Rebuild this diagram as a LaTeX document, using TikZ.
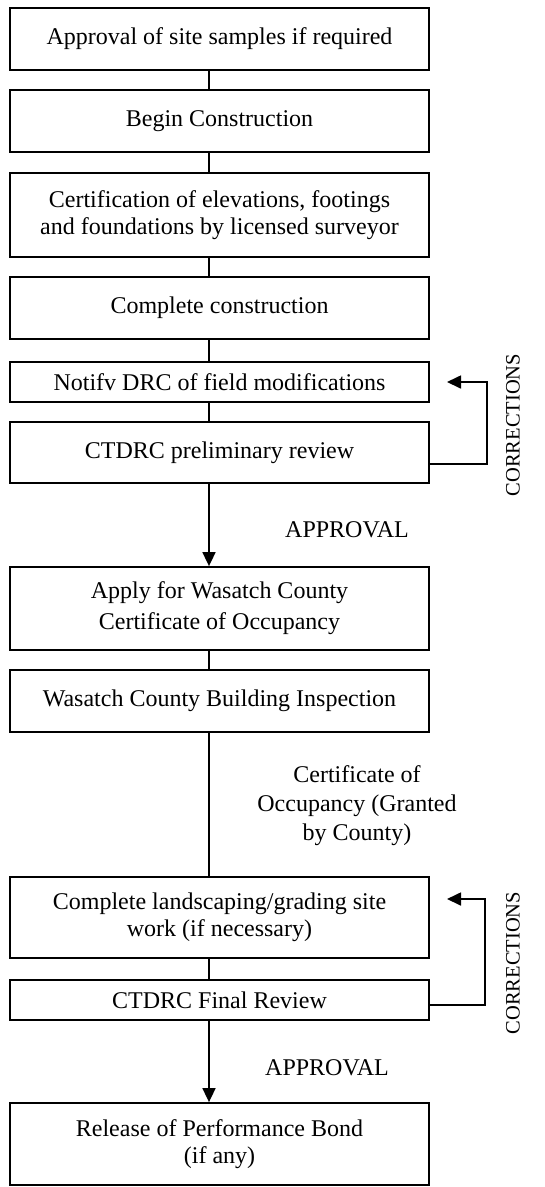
\documentclass[tikz,border=0pt]{standalone}
\usepackage{fontspec}
\setmainfont{Liberation Serif}
\usetikzlibrary{arrows.meta}
\begin{document}
\begin{tikzpicture}[x=1pt,y=-1pt,
  box/.style={draw,line width=1.8pt,minimum width=419pt,inner sep=0pt,align=center,
    font=\fontsize{24}{27}\selectfont},
  conn/.style={line width=1.7pt},
  arr/.style={line width=1.7pt,-{Triangle[length=14pt,width=13pt]}},
  lbl/.style={font=\fontsize{24}{29}\selectfont,align=center,inner sep=0pt},
  rot/.style={font=\fontsize{20.5}{24}\selectfont,rotate=90,inner sep=0pt}]
\useasboundingbox (0,0) rectangle (545,1187);
\node[box,minimum height=62pt] (b1) at (219.5,39) {Approval of site samples if required};
\node[box,minimum height=62pt] (b2) at (219.5,121) {Begin Construction};
\node[box,minimum height=84pt] (b3) at (219.5,215) {Certification of elevations, footings\\and foundations by licensed surveyor};
\node[box,minimum height=62pt] (b4) at (219.5,308) {Complete construction};
\node[box,minimum height=40pt] (b5) at (219.5,382) {Notifv DRC of field modifications};
\node[box,minimum height=61pt] (b6) at (219.5,452.5) {CTDRC preliminary review};
\node[box,minimum height=83pt,font=\fontsize{24}{31}\selectfont] (b7) at (219.5,608.5) {Apply for Wasatch County\\Certificate of Occupancy};
\node[box,minimum height=62pt] (b8) at (219.5,701) {Wasatch County Building Inspection};
\node[box,minimum height=81pt] (b9) at (219.5,917.5) {Complete landscaping/grading site\\work (if necessary)};
\node[box,minimum height=40pt] (b10) at (219.5,1000) {CTDRC Final Review};
\node[box,minimum height=82pt] (b11) at (219.5,1144) {Release of Performance Bond\\(if any)};

\coordinate (sp) at (209,0);
\draw[conn] (b1.south -| sp) -- (b2.north -| sp);
\draw[conn] (b2.south -| sp) -- (b3.north -| sp);
\draw[conn] (b3.south -| sp) -- (b4.north -| sp);
\draw[conn] (b4.south -| sp) -- (b5.north -| sp);
\draw[conn] (b5.south -| sp) -- (b6.north -| sp);
\draw[arr] (b6.south -| sp) -- (b7.north -| sp);
\draw[conn] (b7.south -| sp) -- (b8.north -| sp);
\draw[conn] (b8.south -| sp) -- (b9.north -| sp);
\draw[conn] (b9.south -| sp) -- (b10.north -| sp);
\draw[arr] (b10.south -| sp) -- (b11.north -| sp);

% feedback loops
\coordinate (f1s) at (429,464);
\coordinate (f1r) at (487,464);
\coordinate (f1t) at (447,382);
\draw[arr] (f1s) -- (f1r) |- (f1t);
\coordinate (f2s) at (429,1005);
\coordinate (f2r) at (485,1005);
\coordinate (f2t) at (447,899);
\draw[arr] (f2s) -- (f2r) |- (f2t);

\node[rot] (c1) at (513,425) {CORRECTIONS};
\node[rot] (c2) at (513,963) {CORRECTIONS};
\node[lbl] (a1) at (347,530) {APPROVAL};
\node[lbl] (a2) at (327,1068) {APPROVAL};
\node[lbl] (cert) at (357,806) {Certificate of\\Occupancy (Granted\\by County)};
\end{tikzpicture}
\end{document}
